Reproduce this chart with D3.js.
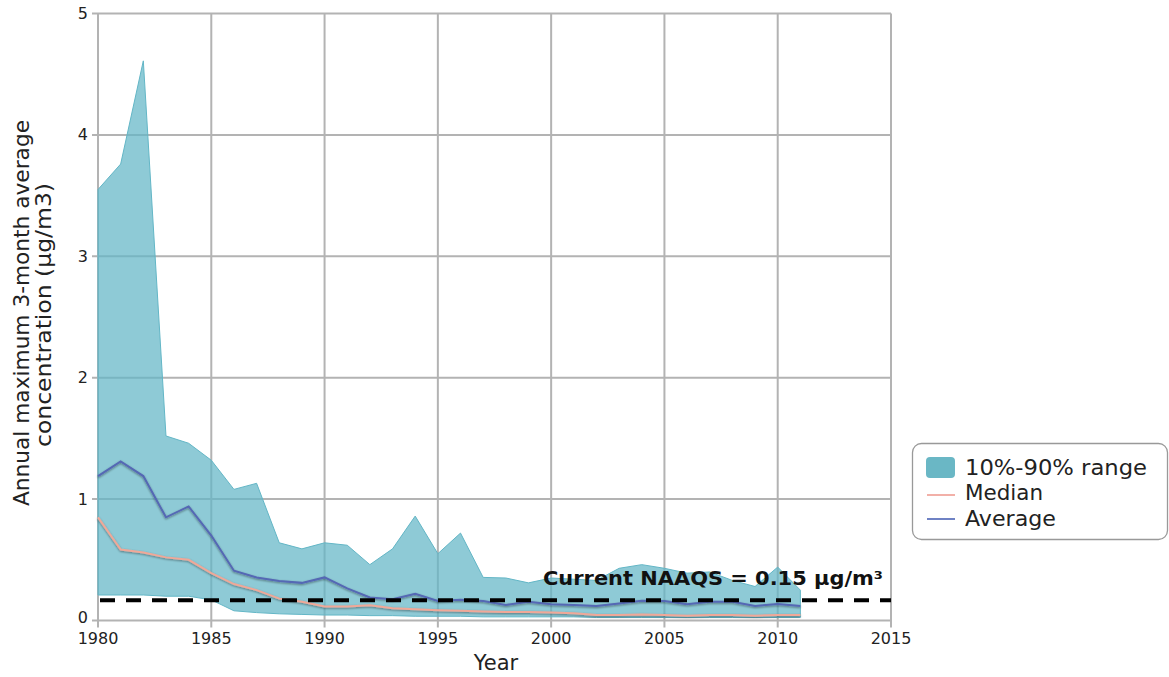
<!DOCTYPE html>
<html><head><meta charset="utf-8">
<script src="https://cdn.jsdelivr.net/npm/d3@7"></script>
<style>body{margin:0;background:#fff;} svg{display:block;font-family:"DejaVu Sans",Verdana,sans-serif;}</style>
</head><body>
<svg id="c" width="1169" height="677"></svg>
<script>
const years = d3.range(1980, 2012);
const p90 = [3.55,3.76,4.61,1.52,1.46,1.32,1.08,1.13,0.64,0.59,0.64,0.62,0.46,0.59,0.86,0.55,0.72,0.355,0.35,0.31,0.35,0.34,0.33,0.43,0.46,0.43,0.39,0.40,0.33,0.28,0.44,0.25];
const p10 = [0.21,0.21,0.21,0.20,0.20,0.17,0.08,0.065,0.055,0.05,0.045,0.045,0.04,0.04,0.035,0.035,0.035,0.03,0.03,0.03,0.03,0.03,0.025,0.025,0.025,0.025,0.025,0.025,0.025,0.025,0.025,0.025];
const median = [0.85,0.585,0.56,0.52,0.50,0.39,0.30,0.25,0.18,0.155,0.115,0.115,0.125,0.10,0.092,0.084,0.08,0.075,0.07,0.07,0.065,0.06,0.045,0.045,0.05,0.045,0.04,0.045,0.045,0.04,0.045,0.045];
const average = [1.19,1.31,1.19,0.85,0.94,0.70,0.41,0.355,0.325,0.31,0.355,0.265,0.19,0.175,0.22,0.16,0.17,0.16,0.128,0.155,0.133,0.128,0.12,0.14,0.163,0.16,0.133,0.155,0.155,0.12,0.136,0.12];
const xTicks = [1980,1985,1990,1995,2000,2005,2010,2015];
const yTicks = [0,1,2,3,4,5];
const naaqs = 0.15;

const svg = d3.select("#c");
const x = d3.scaleLinear().domain([1980,2015]).range([98,891]);
const y = d3.scaleLinear().domain([0,5]).range([620.5,13.5]);

const defs = svg.append("defs");
const f = defs.append("filter").attr("id","sh").attr("x","-5%").attr("y","-50%").attr("width","110%").attr("height","200%");
f.append("feDropShadow").attr("dx",0).attr("dy",1).attr("stdDeviation",1.2).attr("flood-color","#000").attr("flood-opacity",0.45);

// grid
const g = svg.append("g");
g.selectAll(".gx").data(xTicks).join("line")
  .attr("x1",d=>x(d)).attr("x2",d=>x(d)).attr("y1",y(5)).attr("y2",y(0)+7)
  .attr("stroke","#b3b3b3").attr("stroke-width",2);
g.selectAll(".gy").data(yTicks).join("line")
  .attr("x1",x(1980)-6).attr("x2",x(2015)).attr("y1",d=>y(d)).attr("y2",d=>y(d))
  .attr("stroke","#b3b3b3").attr("stroke-width",2);

// band
const area = d3.area().x((d,i)=>x(years[i])).y0((d,i)=>y(p10[i])).y1((d,i)=>y(p90[i]));
svg.append("path").datum(p90).attr("d",area)
  .attr("fill","#63b6c6").attr("fill-opacity",0.72)
  .attr("stroke","#63b6c6").attr("stroke-width",1);

const line = arr => d3.line().x((d,i)=>x(years[i])).y(d=>y(d))(arr);
svg.append("path").attr("d",line(median)).attr("fill","none")
  .attr("stroke","#f0a898").attr("stroke-width",2).attr("filter","url(#sh)");
svg.append("path").attr("d",line(average)).attr("fill","none")
  .attr("stroke","#5468b4").attr("stroke-width",2).attr("filter","url(#sh)");

// NAAQS line
svg.append("line").attr("x1",x(1980)).attr("x2",x(2015)).attr("y1",y(naaqs)-2).attr("y2",y(naaqs)-2)
  .attr("stroke","#000").attr("stroke-width",4).attr("stroke-dasharray","15,11").attr("stroke-dashoffset",-2);
svg.append("text").attr("x",543).attr("y",585)
  .attr("font-size",19).attr("font-weight","bold").attr("fill","#111")
  .attr("textLength",340).attr("lengthAdjust","spacingAndGlyphs")
  .text("Current NAAQS = 0.15 µg/m³");

// tick labels
svg.selectAll(".xl").data(xTicks).join("text")
  .attr("x",d=>x(d)).attr("y",644).attr("text-anchor","middle")
  .attr("font-size",16).attr("fill","#222").text(d=>d);
svg.selectAll(".yl").data(yTicks).join("text")
  .attr("x",88).attr("y",d=>y(d)+(d===0?2:5.5)).attr("text-anchor","end")
  .attr("font-size",16).attr("fill","#222").text(d=>d);

svg.append("text").attr("x",496).attr("y",670).attr("text-anchor","middle")
  .attr("font-size",21).attr("fill","#222").text("Year");
const yt = svg.append("g").attr("transform","translate(0,313) rotate(-90)");
yt.append("text").attr("x",0).attr("y",29).attr("text-anchor","middle")
  .attr("font-size",20.5).attr("fill","#222")
  .attr("textLength",386).attr("lengthAdjust","spacingAndGlyphs")
  .text("Annual maximum 3-month average");
yt.append("text").attr("x",-2).attr("y",51).attr("text-anchor","middle")
  .attr("font-size",20.5).attr("fill","#222")
  .attr("textLength",264).attr("lengthAdjust","spacingAndGlyphs")
  .text("concentration (µg/m3)");

// legend
const lg = svg.append("g");
lg.append("rect").attr("x",912.5).attr("y",443.5).attr("width",255).attr("height",96).attr("rx",9)
  .attr("fill","#fff").attr("stroke","#999").attr("stroke-width",1.3);
lg.append("rect").attr("x",926).attr("y",457).attr("width",29).attr("height",21).attr("rx",4).attr("fill","#6ab7c5");
lg.append("line").attr("x1",927).attr("x2",955).attr("y1",495).attr("y2",495).attr("stroke","#f2b0a8").attr("stroke-width",2);
lg.append("line").attr("x1",927).attr("x2",955).attr("y1",519).attr("y2",519).attr("stroke","#6f82c4").attr("stroke-width",2);
const lt = [["10%-90% range",475,182],["Median",500,78],["Average",526,91]];
lg.selectAll(".lt").data(lt).join("text").attr("x",965).attr("y",d=>d[1])
  .attr("font-size",21).attr("fill","#222")
  .attr("textLength",d=>d[2]).attr("lengthAdjust","spacingAndGlyphs")
  .text(d=>d[0]);
</script>
</body></html>
